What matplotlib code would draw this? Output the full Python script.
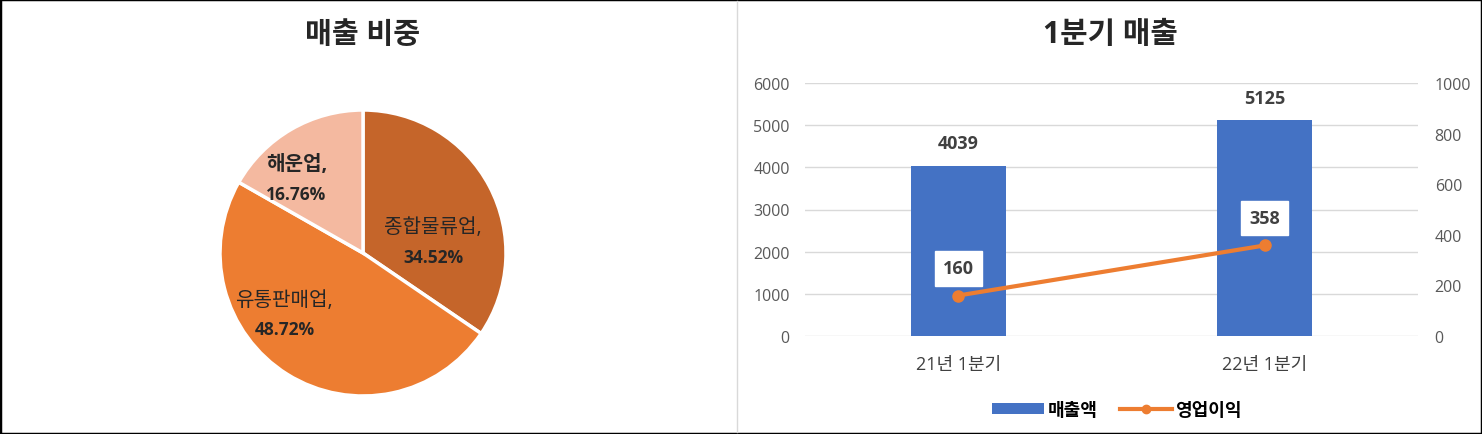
import matplotlib
matplotlib.use("Agg")
import matplotlib.pyplot as plt
from matplotlib.lines import Line2D
from matplotlib.patches import Patch, Rectangle

plt.rcParams["font.family"] = ["Open Sans", "Noto Sans CJK KR", "DejaVu Sans"]

# 매출 비중 데이터
pie_labels = ["종합물류업", "유통판매업", "해운업"]
pie_values = [34.52, 48.72, 16.76]
pie_colors = ["#C5652A", "#ED7D31", "#F4B9A0"]

# 1분기 매출 데이터
quarters = ["21년 1분기", "22년 1분기"]
sales = [4039, 5125]
profit = [160, 358]

W, H = 1482, 435
fig = plt.figure(figsize=(W / 100, H / 100), dpi=100)

# 바깥 테두리, 구분선
fig.patches.append(Rectangle((0, 0), 1, 1, transform=fig.transFigure, fill=False,
                             edgecolor="black", linewidth=2.5))
fig.add_artist(Line2D([737 / W, 737 / W], [0.005, 0.995], transform=fig.transFigure,
                      color="#D9D9D9", linewidth=1))

# ---- 왼쪽: 파이 차트 ----
fig.text(363 / W, 1 - 35 / H, "매출 비중", ha="center", va="center",
         fontsize=21, fontweight="bold", color="#262626")
ax1 = fig.add_axes([220 / W, 38 / H, 286 / W, 286 / H])
ax1.pie(pie_values, colors=pie_colors, startangle=90, counterclock=False,
        radius=1, wedgeprops=dict(edgecolor="white", linewidth=2.5))
ax1.set_xlim(-1, 1)
ax1.set_ylim(-1, 1)
ax1.set_aspect("equal")

# 라벨 위치 (축 좌표)
label_pos = [(0.745, 0.538), (0.225, 0.285), (0.267, 0.76)]
name_weight = ["normal", "normal", "bold"]
for name, val, (x, y), wt in zip(pie_labels, pie_values, label_pos, name_weight):
    ax1.text(x, y + 0.052, name + ",", transform=ax1.transAxes, ha="center", va="center",
             fontsize=14.5, color="#262626", fontweight=wt)
    ax1.text(x, y - 0.052, f"{val:.2f}%", transform=ax1.transAxes, ha="center", va="center",
             fontsize=12.5, color="#262626", fontweight="bold")

# ---- 오른쪽: 막대 + 꺾은선 ----
fig.text(1110 / W, 1 - 35 / H, "1분기 매출", ha="center", va="center",
         fontsize=21.5, fontweight="bold", color="#262626")
ax2 = fig.add_axes([805 / W, 98 / H, 613 / W, 253 / H])
x = range(len(quarters))
bars = ax2.bar(x, sales, width=0.31, color="#4472C4", zorder=2)
ax2.set_ylim(0, 6000)
ax2.set_yticks(range(0, 6001, 1000))
ax2.set_xlim(-0.5, 1.5)
ax2.set_xticks(list(x))
ax2.set_xticklabels(quarters, fontsize=13, color="#404040")
ax2.grid(axis="y", color="#D9D9D9", linewidth=1, zorder=0)
ax2.tick_params(axis="y", length=0, pad=11, labelsize=11.5, labelcolor="#595959")
ax2.tick_params(axis="x", length=0, pad=14)
for s in ax2.spines.values():
    s.set_visible(False)
for b, v in zip(bars, sales):
    ax2.annotate(str(v), (b.get_x() + b.get_width() / 2, v), xytext=(0, 16),
                 textcoords="offset points", ha="center", va="center",
                 fontsize=13, fontweight="bold", color="#404040")

ax3 = ax2.twinx()
ax3.plot(list(x), profit, color="#ED7D31", linewidth=3, marker="o", markersize=8, zorder=3)
ax3.set_ylim(0, 1000)
ax3.set_yticks(range(0, 1001, 200))
ax3.tick_params(axis="y", length=0, pad=12, labelsize=11.5, labelcolor="#595959")
for s in ax3.spines.values():
    s.set_visible(False)
for xi, v in zip(x, profit):
    ax3.annotate(str(v), (xi, v), xytext=(0, 19.5), textcoords="offset points",
                 ha="center", va="center", fontsize=13, fontweight="bold", color="#404040",
                 bbox=dict(boxstyle="square,pad=0.45", facecolor="white", edgecolor="white"))

handles = [Patch(facecolor="#4472C4", label="매출액"),
           Line2D([0], [0], color="#ED7D31", linewidth=3, marker="o", markersize=6, label="영업이익")]
fig.legend(handles=handles, loc="center", bbox_to_anchor=(1117 / W, 1 - 411 / H), ncol=2,
           frameon=False, handlelength=2.9, handleheight=0.6, columnspacing=1.2,
           handletextpad=0.2, prop=dict(weight="bold", size=13))

fig.savefig("out.png", dpi=100)
